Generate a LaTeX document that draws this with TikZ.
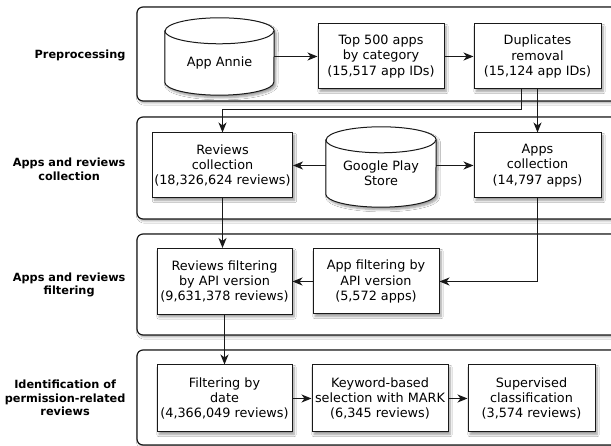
\documentclass[tikz,border=0pt]{standalone}
\usepackage{fontspec}
\setmainfont{DejaVu Sans}
\usetikzlibrary{arrows.meta,shadows.blur,calc}
\tikzset{
  panel/.style={draw=black!90,line width=1.2pt,rounded corners=6pt,fill=white,
    blur shadow={shadow xshift=1.5pt,shadow yshift=-2pt,shadow blur steps=6,shadow opacity=35}},
  stepbox/.style={draw=black!90,line width=1pt,fill=white,align=center,inner sep=0pt,
    font=\fontsize{12.8}{15.4}\selectfont,minimum height=65pt,
    blur shadow={shadow xshift=2pt,shadow yshift=-2.5pt,shadow blur steps=6,shadow opacity=40}},
  cylnode/.style={align=center,inner sep=0pt,font=\fontsize{12.8}{15.4}\selectfont},
  cylpath/.style={draw=black!90,line width=1pt,fill=white,
    blur shadow={shadow xshift=2pt,shadow yshift=-2.5pt,shadow blur steps=6,shadow opacity=40}},
  phase/.style={align=center,anchor=east,font=\bfseries\fontsize{11.3}{13.6}\selectfont},
  arr/.style={draw=black!90,line width=1pt,-{Stealth[length=10pt,width=8pt,inset=3pt]}}
}
\newcommand{\cylinderaround}[3]{%
  \draw[cylpath] (#1.north west) -- ([yshift=#3]#1.south west)
    arc[start angle=180,end angle=360,x radius=#2,y radius=#3]
    -- (#1.north east)
    arc[start angle=0,end angle=180,x radius=#2,y radius=#3] -- cycle;
  \draw[draw=black!90,line width=1pt] (#1.north west)
    arc[start angle=180,end angle=360,x radius=#2,y radius=#3];
}
\begin{document}
\begin{tikzpicture}[x=1pt,y=1pt]
\clip (0,0) rectangle (611,446);
\fill[white] (0,0) rectangle (611,446);
% panels
\draw[panel] (137,345) rectangle (640,439);
\draw[panel] (137,227) rectangle (640,329);
\draw[panel] (137,111) rectangle (640,212);
\draw[panel] (137,1) rectangle (640,96);
% phase labels
\node[phase] (l1) at (129,391) {Preprocessing};
\node[phase] (l2) at (129,277) {Apps and reviews\\collection};
\node[phase] (l3) at (129,161) {Apps and reviews\\filtering};
\node[phase] (l4) at (129,48) {Identification of\\permission-related\\reviews};
% preprocessing
\node[cylnode,minimum width=109pt,minimum height=64pt] (annie) at (219.5,383) {App Annie};
\cylinderaround{annie}{54.5pt}{13pt}
\node[cylnode,minimum width=109pt,minimum height=64pt] at (219.5,383) {App Annie};
\node[stepbox,minimum width=126pt] (top) at (381,389.5) {Top 500 apps\\by category\\(15,517 app IDs)};
\node[stepbox,minimum width=127pt] (dup) at (537.5,389.5) {Duplicates\\removal\\(15,124 app IDs)};
% collection
\node[stepbox,minimum width=140pt] (revcol) at (222.5,280.5) {Reviews\\collection\\(18,326,624 reviews)};
\node[cylnode,minimum width=110pt,minimum height=67pt] (gps) at (381,272.5) {Google Play\\Store};
\cylinderaround{gps}{55pt}{13pt}
\node[cylnode,minimum width=110pt,minimum height=67pt] at (381,272.5) {Google Play\\Store};
\node[stepbox,minimum width=127pt] (appcol) at (537.5,280.5) {Apps\\collection\\(14,797 apps)};
% filtering
\node[stepbox,minimum width=135pt,minimum height=66pt] (revfilt) at (224.5,164.5) {Reviews filtering\\by API version\\(9,631,378 reviews)};
\node[stepbox,minimum width=126pt] (appfilt) at (376,164.5) {App filtering by\\API version\\(5,572 apps)};
% identification
\node[stepbox,minimum width=135pt,minimum height=67pt] (date) at (224.5,47.5) {Filtering by\\date\\(4,366,049 reviews)};
\node[stepbox,minimum width=136pt,minimum height=67pt] (kw) at (380,47.5) {Keyword-based\\selection with MARK\\(6,345 reviews)};
\node[stepbox,minimum width=127pt,minimum height=67pt] (sup) at (531.5,47.5) {Supervised\\classification\\(3,574 reviews)};
% connectors
\draw[arr] (annie.east |- top.west) -- (top.west);
\draw[arr] (top.east) -- (dup.west);
\draw[arr] ([xshift=-16pt]dup.south) -- ++(0,-20.5) -| (revcol.north);
\draw[arr] (dup.south) -- (appcol.north);
\draw[arr] (revcol.east -| gps.west) -- (revcol.east);
\draw[arr] (appcol.west -| gps.east) -- (appcol.west);
\draw[arr] (revcol.south) -- (revcol.south |- revfilt.north);
\draw[arr] (appcol.south) |- (appfilt.east);
\draw[arr] (appfilt.west) -- (revfilt.east);
\draw[arr] (revfilt.south) -- (date.north);
\draw[arr] (date.east) -- (kw.west);
\draw[arr] (kw.east) -- (sup.west);
\end{tikzpicture}
\end{document}
